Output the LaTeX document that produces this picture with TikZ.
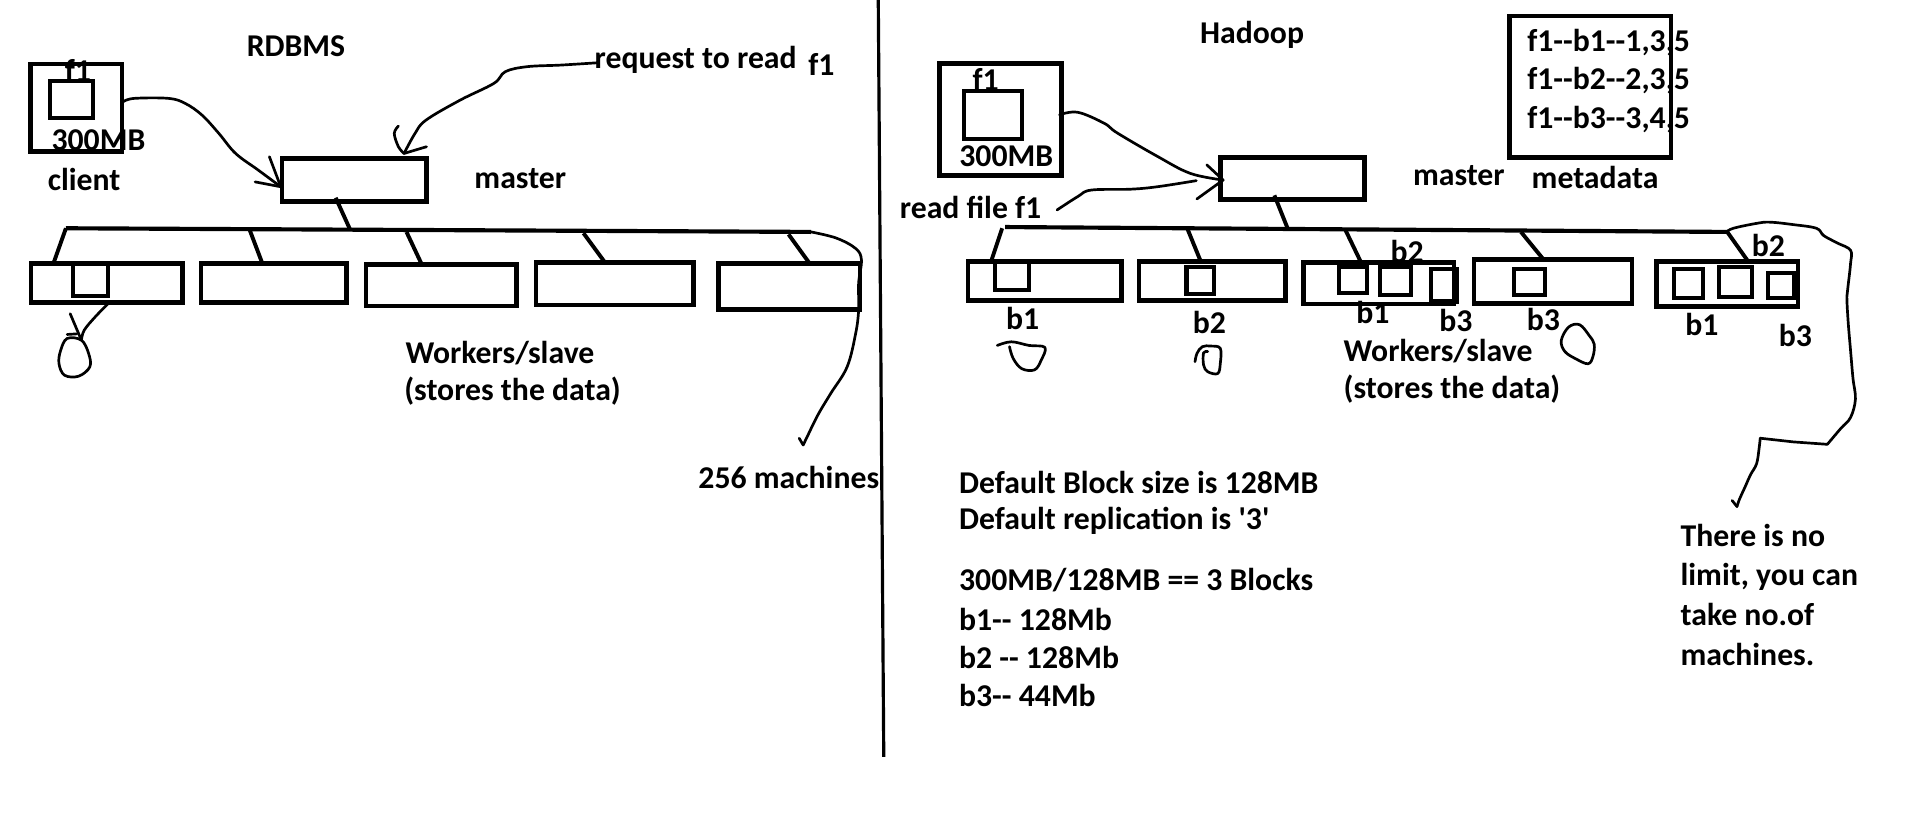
\documentclass[tikz,border=0pt]{standalone}
\usepackage{fontspec}
\newfontfamily\cfont{Carlito}[Ligatures=TeXOff]
\usetikzlibrary{calc}
\newcommand\drawbox[6][]{\node[box,#1,minimum width={(#5-#3)*1pt},minimum height={(#6-#4)*1pt}] (#2) at ({(#3+#5)/2},{(#4+#6)/2}) {};}
\begin{document}
\begin{tikzpicture}[x=1pt,y=-1pt,
  box/.style={draw, line width=3.8pt, inner sep=0pt, outer sep=0pt},
  sbox/.style={line width=3.3pt},
  txt/.style={inner sep=0pt, anchor=base west, font=\cfont\bfseries\fontsize{26}{31}\selectfont},
  bus/.style={line width=3.4pt},
  drop/.style={line width=3.2pt},
  pen/.style={line width=2.2pt, line cap=round, line join=round},
]
\useasboundingbox (0,0) rectangle (1568,677);
\fill[white] (0,0) rectangle (1568,677);

% ---------------- texts (left) ----------------
\node[txt] (rdbms) at (202,46) {RDBMS};
\node[txt] (clf) at (53,67) {f1};
\node[txt] (cls) at (42,123) {300MB};
\node[txt] (clt) at (39,155.7) {client};
\node[txt] (req) at (487,56) {request to read};
\node[txt] (reqf) at (662,61.5) {f1};
\node[txt] (mast1) at (388.5,154.4) {master};
\node[txt] (wl1) at (332,297.8) {Workers/slave};
\node[txt] (wl2) at (331,328) {(stores the data)};
\node[txt] (m256) at (572,400) {256 machines};

% ---------------- texts (right) ----------------
\node[txt] (hadoop) at (983,35.5) {Hadoop};
\node[txt] (c2f) at (796.5,73.8) {f1};
\node[txt] (c2s) at (785.7,136.6) {300MB};
\node[txt] (mast2) at (1157.4,151.6) {master};
\node[txt] (mt1) at (1251,42.4) {f1--b1--1,3,5};
\node[txt] (mt2) at (1251,73) {f1--b2--2,3,5};
\node[txt] (mt3) at (1251,105.3) {f1--b3--3,4,5};
\node[txt] (metat) at (1254.6,154.4) {metadata};
\node[txt] (rf) at (737,179) {read file f1};
\node[txt] (lb1) at (824,269.8) {b1};
\node[txt] (lb2) at (977,273.6) {b2};
\node[txt] (lb3a) at (1139,215.2) {b2};
\node[txt] (lb3b) at (1111,265) {b1};
\node[txt] (lb3c) at (1179,271.7) {b3};
\node[txt] (lb4) at (1250.6,270.5) {b3};
\node[txt] (lb5a) at (1435,210.5) {b2};
\node[txt] (lb5b) at (1380.4,274.9) {b1};
\node[txt] (lb5c) at (1457,283.6) {b3};
\node[txt] (wr1) at (1100.6,296.3) {Workers/slave};
\node[txt] (wr2) at (1100.6,326.4) {(stores the data)};
\node[txt] (d1) at (785.5,404.2) {Default Block size is 128MB};
\node[txt] (d2) at (785.5,433.7) {Default replication is '3'};
\node[txt] (d3) at (785.5,483.4) {300MB/128MB == 3 Blocks};
\node[txt] (d4) at (785.5,516.2) {b1-- 128Mb};
\node[txt] (d5) at (785.5,547.6) {b2 -- 128Mb};
\node[txt] (d6) at (785.5,579) {b3-- 44Mb};
\node[txt] (n1) at (1376.6,448) {There is no};
\node[txt] (n2) at (1376.6,479.3) {limit, you can};
\node[txt] (n3) at (1376.6,512.1) {take no.of};
\node[txt] (n4) at (1376.6,545) {machines.};

% ---------------- boxes (left) ----------------
\drawbox{cl}{25}{52.5}{100}{124}
\drawbox[sbox]{cli}{41}{66}{76}{97}
\drawbox{m1}{231}{130}{349.4}{165}
\drawbox{l1}{25.3}{216}{149.4}{248}
\drawbox[sbox]{l1i}{59.8}{216}{88.7}{242.3}
\drawbox{l2}{164.6}{216}{284}{248}
\drawbox{l3}{299.8}{216.7}{423}{250.8}
\drawbox{l4}{439}{215}{568}{250}
\drawbox{l5}{588.5}{216}{704.4}{253.3}

% ---------------- boxes (right) ----------------
\drawbox{c2}{769.5}{52}{869.5}{144}
\drawbox[sbox]{c2i}{789.5}{74.6}{837}{114}
\drawbox{m2}{1000}{129}{1118}{163.4}
\drawbox{meta}{1236.8}{13}{1369}{129}
\drawbox{r1}{793}{214.4}{918.6}{246.3}
\drawbox[sbox]{r1i}{815}{214}{842.6}{237.6}
\drawbox{r2}{933}{214}{1053}{246}
\drawbox[sbox]{r2i}{972}{218.5}{994.7}{241}
\drawbox{r3}{1068}{215}{1191}{249}
\drawbox[sbox]{r3a}{1097}{218.5}{1120}{240.3}
\drawbox[sbox]{r3b}{1130.4}{219}{1155.6}{241.7}
\drawbox[sbox]{r3c}{1172}{220.6}{1193.6}{247}
\drawbox{r4}{1207.4}{212.4}{1337}{248.5}
\drawbox[sbox]{r4i}{1240}{220}{1266}{242}
\drawbox{r5}{1357}{214}{1473}{251}
\drawbox[sbox]{r5a}{1371}{220}{1395}{244}
\drawbox[sbox]{r5b}{1408}{219}{1435}{243}
\drawbox[sbox]{r5c}{1448}{224}{1470}{244}

% ---------------- divider ----------------
\coordinate (dv1) at (719.5,0);
\coordinate (dv2) at (724,620);
\draw[line width=2.6pt] (dv1) -- (dv2);

% ---------------- left bus ----------------
\coordinate (lbs) at (54,187);
\coordinate (lbe) at (664.4,190);
\draw[bus] (lbs) -- (lbe);
\coordinate (m1d) at (275,162);
\coordinate (lbm) at (287,188.5);
\draw[drop] (m1d) -- (lbm);
\coordinate (lt1) at (43.7,216);
\coordinate (lq2) at (204.6,188.5); \coordinate (lt2) at (215,216);
\coordinate (lq3) at (333,190);   \coordinate (lt3) at (345.7,217);
\coordinate (lq4) at (478,191);   \coordinate (lt4) at (495.6,215);
\coordinate (lq5) at (646,192);   \coordinate (lt5) at (663.4,216);
\draw[drop] (lbs) -- (lt1);
\draw[drop] (lq2) -- (lt2);
\draw[drop] (lq3) -- (lt3);
\draw[drop] (lq4) -- (lt4);
\draw[drop] (lq5) -- (lt5);

% left long curve to "256 machines"
\coordinate (lce) at (658,364.6);
\draw[pen] plot[smooth, tension=0.6] coordinates {(lbe) (685,195) (701,203.6) (705.7,213) (703.4,232) (703.4,254) (701,273) (694,300.5) (680.5,322.4) (670,340) (661.3,357.7) (lce)};
\draw[pen] (654.7,359) -- (lce);

% client -> master (left)
\coordinate (cla) at (101,83.3);
\coordinate (m1a) at (230,153);
\draw[pen] plot[smooth, tension=0.6] coordinates {(cla) (110,80.6) (138,80.6) (151.7,84.7) (165.5,94.3) (179.3,109.3) (193,125.7) (211.5,139.3) (m1a)};
\draw[pen] (220.7,128.4) -- (m1a) -- (209,149);

% request -> master (left)
\coordinate (rqa) at (489.7,51.4);
\coordinate (m1b) at (331,125.7);
\draw[pen] plot[smooth, tension=0.6] coordinates {(rqa) (459.8,53.3) (432,54.6) (414,58.7) (404.6,68.3) (377,82) (349,98.4) (340,109.3) (m1b)};
\draw[pen] plot[smooth, tension=0.6] coordinates {(326.4,103.3) (323,109.3) (326.4,120.2) (m1b)};
\draw[pen] (m1b) -- (349.4,120.2);

% little loop under worker 1
\coordinate (l1o) at (88.7,248.6);
\coordinate (l1p) at (66.7,278.7);
\draw[pen] plot[smooth, tension=0.6] coordinates {(l1o) (78,259.6) (69,270.5) (l1p)};
\draw[pen] (57.5,257) -- (l1p);
\draw[pen] plot[smooth cycle, tension=0.6] coordinates {(l1p) (55,277.3) (49.7,287) (48.3,297.8) (52.9,307.4) (64.4,308.2) (73.6,300.5) (72.6,289.6)};
\draw[pen] (55,274) -- (63,273.5);

% ---------------- right bus ----------------
\coordinate (rbs) at (823.5,186);
\coordinate (rbe) at (1414.6,190);
\draw[bus] (rbs) -- (rbe);
\coordinate (m2d) at (1044,160);
\coordinate (rbm) at (1055,187.5);
\draw[drop] (m2d) -- (rbm);
\coordinate (rq1) at (821,187);  \coordinate (rt1) at (812,214);
\coordinate (rq2) at (973,188);  \coordinate (rt2) at (983.6,214);
\coordinate (rq3) at (1102,188); \coordinate (rt3) at (1115,215);
\coordinate (rq4) at (1246,190); \coordinate (rt4) at (1264,212);
\coordinate (rq5) at (1415,190); \coordinate (rt5) at (1432,214);
\draw[drop] (rq1) -- (rt1);
\draw[drop] (rq2) -- (rt2);
\draw[drop] (rq3) -- (rt3);
\draw[drop] (rq4) -- (rt4);
\draw[drop] (rq5) -- (rt5);

% big right curve to the note
\coordinate (rc1) at (1497,364);
\coordinate (rc2) at (1442,359);
\coordinate (rce) at (1423,415);
\draw[pen] plot[smooth, tension=0.6] coordinates {(rbe) (1420,187) (1439,183) (1450,182) (1469,184) (1488,187) (1494,193) (1505,199) (1516,205) (1516,216) (1514,234) (1513,243) (1514,263) (1516,287) (1518,310) (1520,327) (1516,342) (1508,351) (rc1)};
\draw[pen] (rc1) -- (1469,362) -- (rc2);
\draw[pen] plot[smooth, tension=0.6] coordinates {(rc2) (1441,368) (1439,380) (1434,389) (1430,398) (1425,409) (rce)};
\draw[pen] (1419,410) -- (rce);

% client -> master (right)
\coordinate (c2a) at (868,94);
\coordinate (m2a) at (1002,147.5);
\draw[pen] plot[smooth, tension=0.6] coordinates {(c2a) (883,92) (904.6,101) (915.4,109) (948,128) (975,142) (m2a)};
% read file f1 -> master
\coordinate (rfa) at (866,172);
\coordinate (rfb) at (980,148);
\draw[pen] plot[smooth, tension=0.6] coordinates {(rfa) (883,161) (894,155.7) (926,155) (948,153) (rfb)};
\draw[pen] (988.6,135) -- (m2a) -- (980.5,163);

% loops under right workers
\draw[pen] plot[smooth, tension=0.6] coordinates {(817,283) (828.5,280) (843,283) (856,284.6) (853,295) (847.5,303) (837,302) (830,293.6) (827,284)};
\draw[pen] plot[smooth, tension=0.6] coordinates {(979,296.3) (980.6,289.5) (985,284) (992,283.5) (999.7,285.4) (999.7,297.7) (997.6,306) (989.4,304.5) (986,299) (986,289) (989.4,288)};
\draw[pen] plot[smooth cycle, tension=0.6] coordinates {(1285,268) (1294,266) (1302,275) (1306,282) (1305,292) (1301,298) (1291,294) (1282,288) (1279,279)};
\end{tikzpicture}
\end{document}
